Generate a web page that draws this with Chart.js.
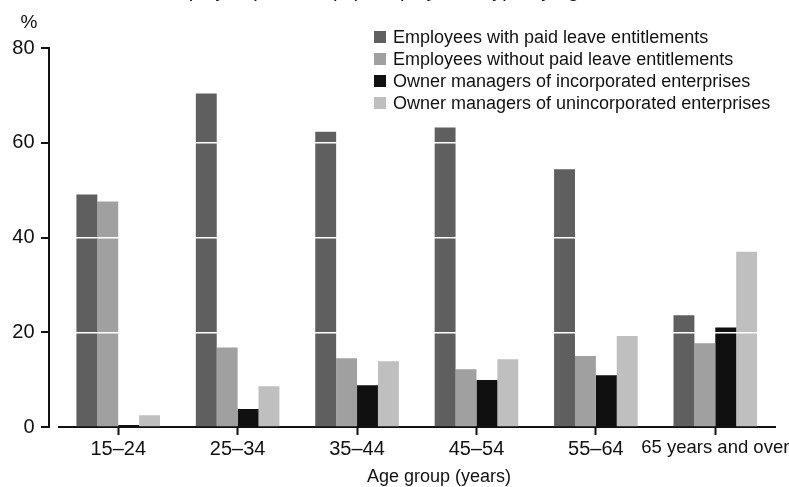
<!DOCTYPE html>
<html>
<head>
<meta charset="utf-8">
<script src="https://cdn.jsdelivr.net/npm/chart.js@4/dist/chart.umd.min.js"></script>
<style>
    html, body { margin: 0; padding: 0; background: #fff; }
    #wrap { width: 789px; height: 487px; position: relative; }
</style>
</head>
<body>
<div id="wrap"><canvas id="ageChart"></canvas></div>
<script>
// 차트 데이터
const ageGroups = ['15–24', '25–34', '35–44', '45–54', '55–64', '65 years and over']
const paidLeave = [49.1, 70.4, 62.3, 63.2, 54.4, 23.6]
const noPaidLeave = [47.6, 16.8, 14.5, 12.2, 15.0, 17.7]
const ownerInc = [0.4, 3.8, 8.8, 9.9, 10.9, 21.0]
const ownerUninc = [2.5, 8.6, 13.9, 14.3, 19.2, 37.0]
const yTicks = [0, 20, 40, 60, 80]

const seriesNames = [
    'Employees with paid leave entitlements',
    'Employees without paid leave entitlements',
    'Owner managers of incorporated enterprises',
    'Owner managers of unincorporated enterprises'
]
const seriesColors = ['#5f5f5f', '#a0a0a0', '#101010', '#bfbfbf']

const FONT = '"Liberation Sans", Arial, sans-serif'
const INK = '#111'

Chart.defaults.font.family = FONT
Chart.defaults.color = INK

// y축 선, 범례, 글자들
const extrasPlugin = {
    id: 'extras',
    afterDraw(chart) {
        const ctx = chart.ctx
        const y = chart.scales.y
        const area = chart.chartArea
        const axisX = area.left - 9.5

        ctx.save()
        ctx.strokeStyle = INK
        ctx.lineWidth = 2
        ctx.beginPath()
        ctx.moveTo(axisX, y.getPixelForValue(80) - 1)
        ctx.lineTo(axisX, y.getPixelForValue(0) + 1)
        yTicks.forEach(v => {
            const py = Math.round(y.getPixelForValue(v))
            ctx.moveTo(axisX - 8, py)
            ctx.lineTo(axisX, py)
        })
        ctx.stroke()

        // 단위
        ctx.fillStyle = INK
        ctx.font = '19px ' + FONT
        ctx.textAlign = 'center'
        ctx.textBaseline = 'middle'
        ctx.fillText('%', 29, 23)

        // 잘린 제목 (위쪽이 잘려 있음)
        ctx.font = '20px ' + FONT
        ctx.textBaseline = 'alphabetic'
        ctx.textAlign = 'right'
        ctx.fillText('Employed persons ', 330, -3)
        ctx.textAlign = 'left'
        ctx.fillText('(%), employment type by age', 330, -3)

        // x축 제목
        ctx.font = '18px ' + FONT
        ctx.textAlign = 'center'
        ctx.fillText('Age group (years)', 439, 482)

        // 범례
        ctx.font = '18px ' + FONT
        ctx.textAlign = 'left'
        ctx.textBaseline = 'middle'
        chart.data.datasets.forEach((ds, i) => {
            const cy = 37 + i * 22
            ctx.fillStyle = ds.backgroundColor
            ctx.fillRect(374, cy - 6, 12, 12)
            ctx.fillStyle = INK
            ctx.fillText(ds.label, 393, cy + 1)
        })
        ctx.restore()
    }
}

const context = document.getElementById('ageChart')
const chartData = {
    labels: ageGroups,
    datasets: [paidLeave, noPaidLeave, ownerInc, ownerUninc].map((values, i) => ({
        label: seriesNames[i],
        data: values,
        backgroundColor: seriesColors[i],
        borderWidth: 0,
        barPercentage: 1.0,
        categoryPercentage: 0.7
    }))
}

const config = {
    type: 'bar',
    data: chartData,
    options: {
        responsive: true,
        maintainAspectRatio: false,
        animation: false,
        layout: {
            padding: { left: 0, right: 14, top: 48, bottom: 0 }
        },
        scales: {
            x: {
                offset: true,
                // 마지막 라벨이 오른쪽 여백을 늘리지 않도록
                afterFit(scale) {
                    scale.height = 60
                    scale.paddingLeft = 0
                    scale.paddingRight = 0
                },
                border: { display: true, color: INK, width: 2 },
                grid: {
                    offset: false,
                    drawOnChartArea: false,
                    drawTicks: true,
                    tickLength: 8,
                    tickColor: INK,
                    tickWidth: 2
                },
                ticks: {
                    padding: 2,
                    // 긴 라벨은 조금 작게 (원본 글꼴이 좁음)
                    font: (c) => ({ size: c.index === ageGroups.length - 1 ? 18.5 : 20 }),
                    color: INK,
                    maxRotation: 0,
                    autoSkip: false
                }
            },
            y: {
                min: 0,
                max: 80,
                afterFit(scale) { scale.width = 58.5 },
                afterBuildTicks(scale) { scale.ticks = yTicks.map(v => ({ value: v })) },
                border: { display: false },
                grid: {
                    z: 1,
                    drawTicks: false,
                    lineWidth: 1.5,
                    color: (c) => (c.tick && c.tick.value > 0 && c.tick.value < 80) ? '#ffffff' : 'rgba(0,0,0,0)'
                },
                ticks: {
                    padding: 24,
                    font: { size: 20 },
                    color: INK
                }
            }
        },
        plugins: {
            legend: { display: false },
            title: { display: false },
            tooltip: { enabled: false }
        }
    },
    plugins: [extrasPlugin]
}

new Chart(context, config)
</script>
</body>
</html>
